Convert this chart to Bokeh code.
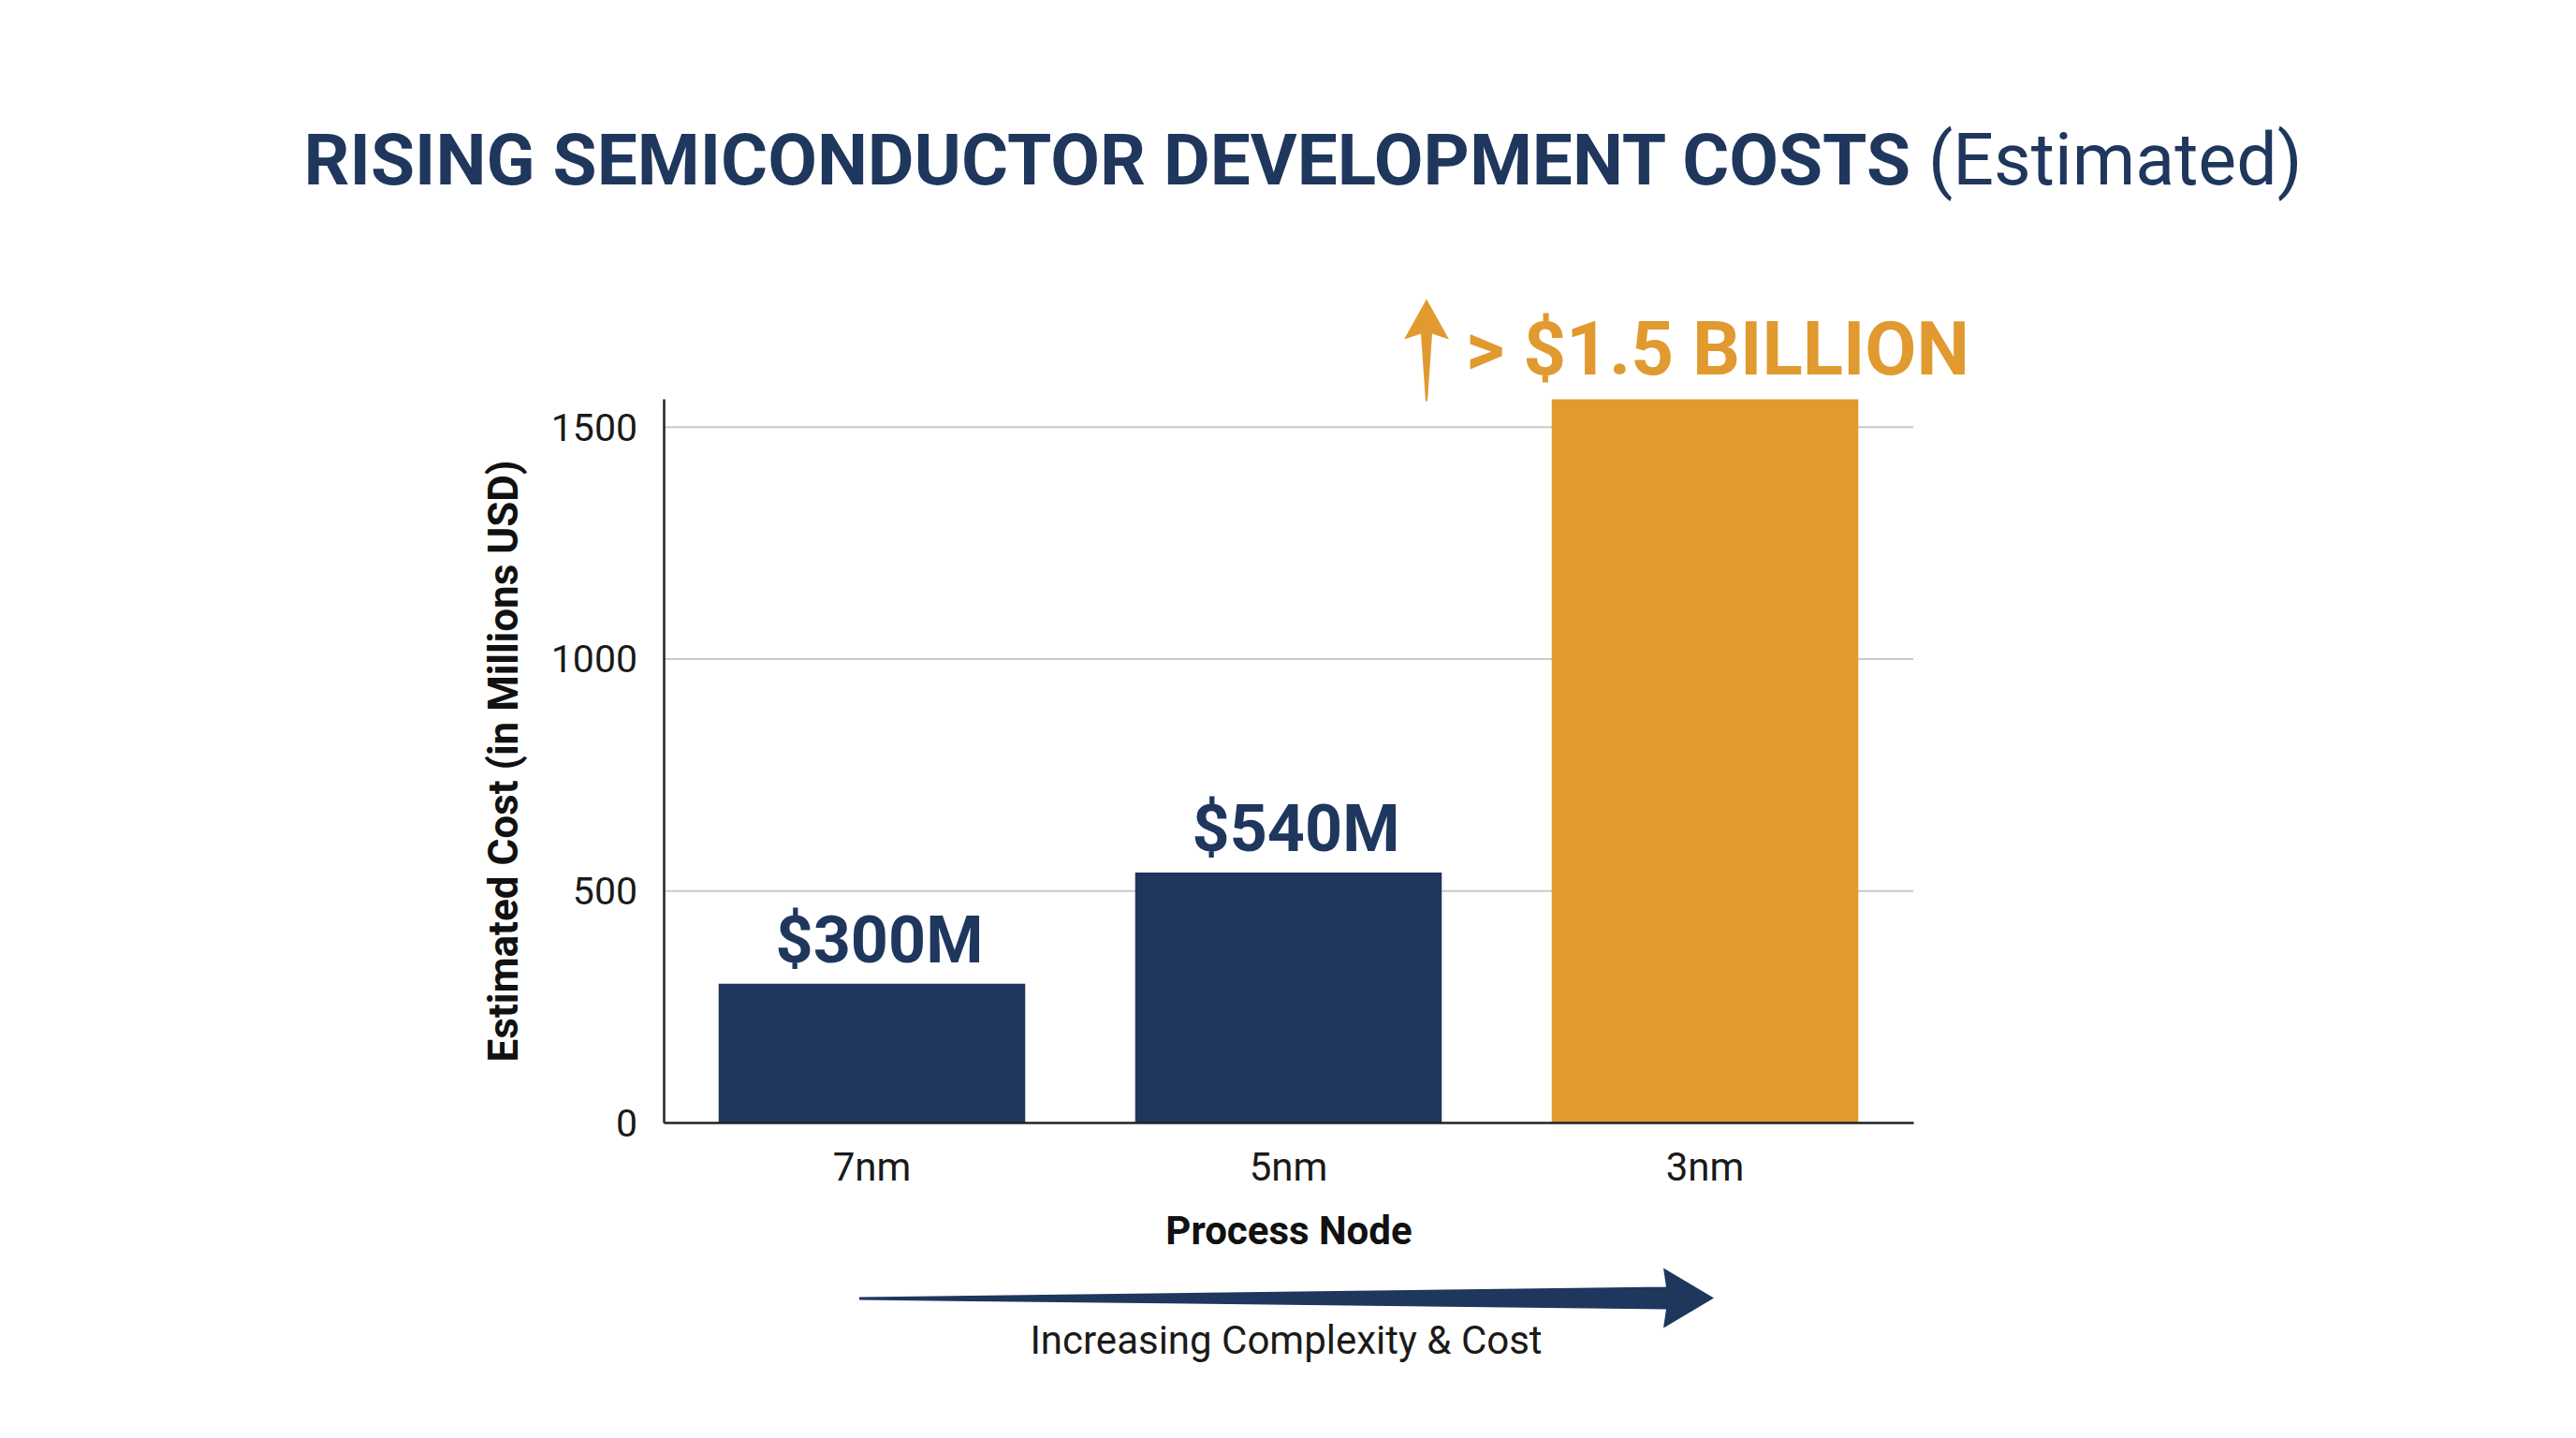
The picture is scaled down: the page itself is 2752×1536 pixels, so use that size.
from bokeh.plotting import figure
from bokeh.models import (ColumnDataSource, LabelSet, Label, PolyAnnotation, FixedTicker,
                          Range1d, FactorRange, LinearAxis, CategoricalAxis)
from bokeh.core.properties import value
from bokeh.embed import file_html
from bokeh.resources import INLINE

# ---- data ----
nodes = ["7nm", "5nm", "3nm"]
costs = [300, 540, 1560]
bar_colors = ["#1F365D", "#1F365D", "#E09A30"]
bar_labels = ["$300M", "$540M", ""]
y_ticks = [0, 500, 1000, 1500]
title_main = "RISING SEMICONDUCTOR DEVELOPMENT COSTS"
title_note = "(Estimated)"
callout_text = "> $1.5 BILLION"
x_title = "Process Node"
y_title = "Estimated Cost (in Millions USD)"
trend_text = "Increasing Complexity & Cost"

NAVY = "#1F365D"
ORANGE = "#E09A30"
INK = "#1A1A1A"
FONT = "Roboto"

# ---- geometry (page px) ----
W, H = 2752, 1536
AX_X0, AX_X1 = 711, 2046      # value-axis x, right end of category axis
AX_Y0, AX_Y1 = 1199, 426      # baseline, top of value axis
YTOP = max(costs)
ux = (AX_X1 - AX_X0) / len(nodes)   # px per category
uy = (AX_Y0 - AX_Y1) / YTOP         # px per value unit
pad = (AX_X0 + (W - AX_X1)) / 2 / ux   # category units of padding on each side


def dx(px):
    return (px - AX_X0) / ux


def dy(py):
    return (AX_Y0 - py) / uy


p = figure(x_range=FactorRange(*nodes, range_padding=pad, range_padding_units="absolute"),
           y_range=Range1d(dy(H), dy(0)), width=W, height=H,
           x_axis_location=None, y_axis_location=None, title=None,
           output_backend="svg", toolbar_location=None, min_border=0)
p.outline_line_color = None
p.background_fill_color = "white"
p.border_fill_color = "white"
p.grid.visible = False

# horizontal grid lines at the value ticks
grid_ys = [t for t in y_ticks if t > 0]
p.segment(x0=[0] * len(grid_ys), x1=[len(nodes)] * len(grid_ys), y0=grid_ys, y1=grid_ys,
          line_color="#C9C9C9", line_width=2)

src = ColumnDataSource(dict(node=nodes, cost=costs, color=bar_colors))
p.vbar(x="node", top="cost", width=0.736, source=src,
       fill_color="color", line_color=None)

# axes
yaxis = LinearAxis(fixed_location=0, bounds=(0, YTOP), ticker=FixedTicker(ticks=y_ticks))
xaxis = CategoricalAxis(fixed_location=0, bounds=(0, len(nodes)))
p.add_layout(yaxis, "left")
p.add_layout(xaxis, "below")
for ax in (xaxis, yaxis):
    ax.axis_line_color = "#222222"
    ax.axis_line_width = 2.5
    ax.major_tick_line_color = None
    ax.minor_tick_line_color = None
    ax.major_tick_out = 0
    ax.major_tick_in = 0
    ax.major_label_text_font = FONT
    ax.major_label_text_color = INK
    ax.axis_label_text_font = FONT
    ax.axis_label_text_font_style = "bold"
    ax.axis_label_text_color = "#111111"

xaxis.axis_label = x_title
xaxis.major_label_text_font_size = "42px"
xaxis.axis_label_text_font_size = "42px"
xaxis.major_label_standoff = 22
xaxis.axis_label_standoff = 16

yaxis.axis_label = y_title
yaxis.major_label_text_font_size = "41px"
yaxis.axis_label_text_font_size = "44px"
yaxis.major_label_standoff = 28
yaxis.axis_label_standoff = 22

# value labels above the navy bars
lab_idx = [i for i, t in enumerate(bar_labels) if t]
lab_src = ColumnDataSource(dict(node=[nodes[i] for i in lab_idx],
                                cost=[costs[i] for i in lab_idx],
                                label=[bar_labels[i] for i in lab_idx]))
p.add_layout(LabelSet(x="node", y="cost", text="label", source=lab_src,
                      text_align="center", text_baseline="alphabetic",
                      x_offset=8, y_offset=23, text_font=value(FONT), text_font_style="bold",
                      text_font_size="70px", text_color=NAVY))

# title (bold part + regular part)
p.add_layout(Label(x=dx(2045), y=dy(170), text=title_main, text_align="right",
                   text_baseline="middle", text_font=FONT, text_font_style="bold",
                   text_font_size="76.5px", text_color=NAVY))
p.add_layout(Label(x=dx(2062), y=dy(170), text=title_note, text_align="left",
                   text_baseline="middle", text_font=FONT, text_font_style="normal",
                   text_font_size="77px", text_color=NAVY))

# call-out above the 3nm bar
p.add_layout(Label(x=dx(1568), y=dy(372), text=callout_text, text_align="left",
                   text_baseline="middle", text_font=FONT, text_font_style="bold",
                   text_font_size="80px", text_color=ORANGE))
up_px = [(1526, 319), (1550, 362), (1532, 356), (1527, 428), (1525, 428), (1520, 356), (1502, 362)]
p.add_layout(PolyAnnotation(xs=[dx(a) for a, b in up_px], ys=[dy(b) for a, b in up_px],
                            xs_units="data", ys_units="data",
                            fill_color=ORANGE, fill_alpha=1, line_color=None))

# trend arrow under the axis
tr_px = [(920, 1385), (1782, 1374), (1779, 1354), (1833, 1386), (1779, 1418), (1782, 1398), (920, 1388)]
p.add_layout(PolyAnnotation(xs=[dx(a) for a, b in tr_px], ys=[dy(b) for a, b in tr_px],
                            xs_units="data", ys_units="data",
                            fill_color=NAVY, fill_alpha=1, line_color=None))
p.add_layout(Label(x=dx(1376), y=dy(1431), text=trend_text, text_align="center",
                   text_baseline="middle", text_font=FONT, text_font_style="normal",
                   text_font_size="42px", text_color=INK))

open("out.html", "w").write(file_html(p, INLINE))
